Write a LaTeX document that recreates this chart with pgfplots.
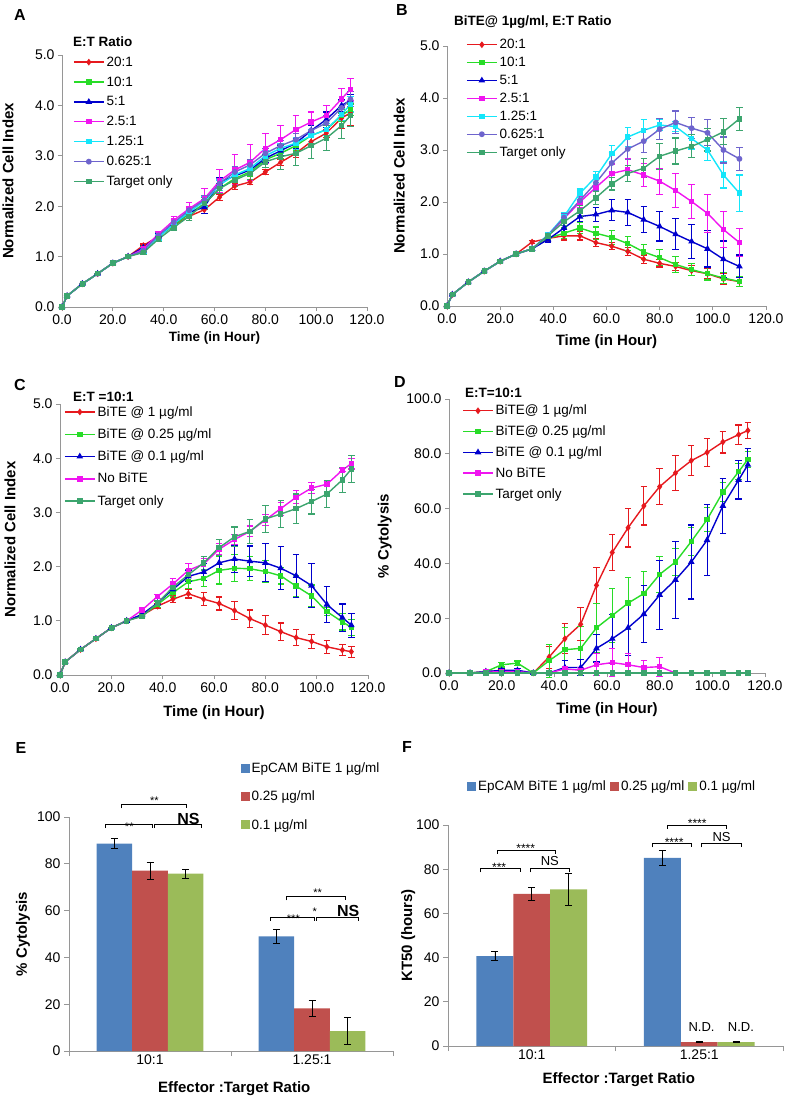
\documentclass[border=0pt]{standalone}
\usepackage{fontspec}
\setmainfont{Liberation Sans}
\usepackage{pgfplots}
\pgfplotsset{compat=1.18}
\definecolor{cRed}{RGB}{230,25,30}
\definecolor{cGreen}{RGB}{40,220,40}
\definecolor{cBlue}{RGB}{0,0,205}
\definecolor{cMag}{RGB}{240,20,240}
\definecolor{cCyan}{RGB}{20,230,250}
\definecolor{cPur}{RGB}{110,100,205}
\definecolor{cTeal}{RGB}{60,165,110}
\definecolor{axgray}{RGB}{150,150,150}
\definecolor{bBlue}{RGB}{79,129,189}
\definecolor{bRed}{RGB}{192,80,77}
\definecolor{bGreen}{RGB}{155,187,89}
\newcommand\tickf{\fontsize{14}{16}\selectfont}
\newcommand\legf{\fontsize{13.5}{16}\selectfont}
\newcommand\labf{\fontsize{15}{17}\selectfont\bfseries}
\newcommand\titf{\fontsize{13.5}{16}\selectfont\bfseries}
\newcommand\panf{\fontsize{16}{18}\selectfont\bfseries}
\pgfplotsset{
  base/.style={scale only axis, axis lines=left, axis line style={-, draw=axgray, line width=0.9pt},
    tick align=outside, major tick length=4pt, tick style={draw=axgray, line width=0.9pt},
    tick label style={font=\tickf}, /pgf/number format/assume math mode=true,
    label style={font=\labf}, clip=false, legend cell align=left,
    legend style={draw=none, fill=none, font=\legf, anchor=north west}},
  ln/.style={base, xmin=0, xmax=120, ymin=0, xtick={0,20,...,120},
    xticklabel style={/pgf/number format/.cd, fixed, fixed zerofill, precision=1},
    yticklabel style={/pgf/number format/.cd, fixed, fixed zerofill, precision=1},
    xlabel={Time (in Hour)},
    legend image code/.code={\draw[mark repeat=2, mark phase=2, ##1] plot coordinates {(0pt,0pt) (15pt,0pt) (30pt,0pt)};}},
  ser/.style={line width=1.4pt, mark size=2.3pt, mark options={solid},
    error bars/y dir=both, error bars/y explicit,
    error bars/error bar style={line width=1.1pt},
    error bars/error mark options={rotate=90, mark size=3.2pt, line width=1.1pt}},
  bars/.style={base, ymin=0, ymax=100, ytick={0,20,...,100}, xmin=-0.5, xmax=1.5,
    xtick={-0.5,0.5,1.5}, xticklabels={,,}, major tick length=5pt,
    extra x ticks={0,1}, extra x tick labels={10:1,1.25:1},
    extra x tick style={major tick length=0pt},
    ybar, bar width=0.22, xlabel={Effector :Target Ratio},
    legend image code/.code={\fill[##1] (0pt,-4.5pt) rectangle (9pt,4.5pt);}},
  eb/.style={error bars/y dir=both, error bars/y explicit,
    error bars/error bar style={black, line width=0.8pt},
    error bars/error mark options={rotate=90, black, mark size=3.5pt, line width=0.8pt}},
}
\begin{document}
\begin{tikzpicture}
\useasboundingbox (0pt,0pt) rectangle (786pt,-1100pt);

% ---------- A
\begin{axis}[ln, at={(62pt,-307pt)}, anchor=south west, width=305pt, height=252pt,
  ymax=5, ytick={0,1,...,5}, ylabel={Normalized Cell Index},
  ylabel style={at={(axis description cs:-0.177,0.5)}, anchor=center},
  xlabel style={at={(axis description cs:0.5,-0.123)}, anchor=center, font=\fontsize{13.5}{16}\selectfont\bfseries},
  legend style={at={(axis description cs:0.026,1.01)}, row sep=5pt}]
\addplot[ser, cRed, mark=diamond*, mark size=2.3pt] coordinates {(0,0)+-(0,0.01) (2,0.22)+-(0,0.01) (8,0.46)+-(0,0.01) (14,0.66)+-(0,0.01) (20,0.87)+-(0,0.01) (26,1.0)+-(0,0.01)
 (32,1.22)+-(0,0.03) (38,1.40)+-(0,0.04) (44,1.62)+-(0,0.05) (50,1.80)+-(0,0.05) (56,1.93)+-(0,0.08) (62,2.18)+-(0,0.06) (68,2.40)+-(0,0.06) (74,2.48)+-(0,0.05)
 (80,2.68)+-(0,0.05) (86,2.87)+-(0,0.06) (92,3.05)+-(0,0.08) (98,3.28)+-(0,0.08) (104,3.45)+-(0,0.08) (110,3.75)+-(0,0.2) (113.5,3.85)+-(0,0.25)};
\addlegendentry{20:1}
\addplot[ser, cGreen, mark=square*, mark size=2pt] coordinates {(0,0)+-(0,0.01) (2,0.22)+-(0,0.01) (8,0.46)+-(0,0.01) (14,0.66)+-(0,0.01) (20,0.87)+-(0,0.01) (26,1.0)+-(0,0.01)
 (32,1.15)+-(0,0.04) (38,1.40)+-(0,0.04) (44,1.62)+-(0,0.05) (50,1.85)+-(0,0.06) (56,2.05)+-(0,0.08) (62,2.35)+-(0,0.08) (68,2.55)+-(0,0.08) (74,2.68)+-(0,0.08)
 (80,2.92)+-(0,0.08) (86,3.05)+-(0,0.1) (92,3.20)+-(0,0.1) (98,3.40)+-(0,0.12) (104,3.52)+-(0,0.12) (110,3.80)+-(0,0.12) (113.5,3.92)+-(0,0.12)};
\addlegendentry{10:1}
\addplot[ser, cBlue, mark=triangle*, mark size=2.5pt] coordinates {(0,0)+-(0,0.01) (2,0.22)+-(0,0.01) (8,0.46)+-(0,0.01) (14,0.66)+-(0,0.01) (20,0.87)+-(0,0.01) (26,1.0)+-(0,0.01)
 (32,1.18)+-(0,0.04) (38,1.42)+-(0,0.04) (44,1.65)+-(0,0.05) (50,1.88)+-(0,0.06) (56,1.98)+-(0,0.12) (62,2.48)+-(0,0.08) (68,2.60)+-(0,0.08) (74,2.72)+-(0,0.08)
 (80,2.95)+-(0,0.08) (86,3.10)+-(0,0.1) (92,3.25)+-(0,0.1) (98,3.50)+-(0,0.1) (104,3.72)+-(0,0.15) (110,4.00)+-(0,0.12) (113.5,4.10)+-(0,0.12)};
\addlegendentry{5:1}
\addplot[ser, cMag, mark=square*, mark size=2pt] coordinates {(0,0)+-(0,0.01) (2,0.22)+-(0,0.01) (8,0.46)+-(0,0.01) (14,0.66)+-(0,0.01) (20,0.87)+-(0,0.01) (26,1.0)+-(0,0.01)
 (32,1.15)+-(0,0.03) (38,1.45)+-(0,0.04) (44,1.72)+-(0,0.08) (50,1.95)+-(0,0.12) (56,2.15)+-(0,0.2) (62,2.50)+-(0,0.22) (68,2.72)+-(0,0.3) (74,2.87)+-(0,0.35)
 (80,3.15)+-(0,0.3) (86,3.32)+-(0,0.28) (92,3.52)+-(0,0.28) (98,3.67)+-(0,0.2) (104,3.80)+-(0,0.2) (110,4.13)+-(0,0.2) (113.5,4.32)+-(0,0.22)};
\addlegendentry{2.5:1}
\addplot[ser, cCyan, mark=square*, mark size=2pt] coordinates {(0,0)+-(0,0.01) (2,0.22)+-(0,0.01) (8,0.46)+-(0,0.01) (14,0.66)+-(0,0.01) (20,0.87)+-(0,0.01) (26,1.0)+-(0,0.01)
 (32,1.10)+-(0,0.04) (38,1.38)+-(0,0.05) (44,1.65)+-(0,0.06) (50,1.88)+-(0,0.08) (56,2.10)+-(0,0.1) (62,2.42)+-(0,0.1) (68,2.62)+-(0,0.1) (74,2.75)+-(0,0.1)
 (80,3.00)+-(0,0.1) (86,3.15)+-(0,0.1) (92,3.25)+-(0,0.12) (98,3.40)+-(0,0.12) (104,3.52)+-(0,0.12) (110,3.82)+-(0,0.12) (113.5,4.02)+-(0,0.15)};
\addlegendentry{1.25:1}
\addplot[ser, cPur, mark=*, mark size=2.2pt] coordinates {(0,0)+-(0,0.01) (2,0.22)+-(0,0.01) (8,0.46)+-(0,0.01) (14,0.66)+-(0,0.01) (20,0.87)+-(0,0.01) (26,1.0)+-(0,0.01)
 (32,1.12)+-(0,0.04) (38,1.42)+-(0,0.05) (44,1.68)+-(0,0.06) (50,1.92)+-(0,0.08) (56,2.12)+-(0,0.1) (62,2.45)+-(0,0.1) (68,2.68)+-(0,0.1) (74,2.82)+-(0,0.1)
 (80,3.05)+-(0,0.1) (86,3.20)+-(0,0.1) (92,3.32)+-(0,0.12) (98,3.50)+-(0,0.12) (104,3.65)+-(0,0.15) (110,3.95)+-(0,0.15) (113.5,4.12)+-(0,0.15)};
\addlegendentry{0.625:1}
\addplot[ser, cTeal, mark=square*, mark size=2pt] coordinates {(0,0)+-(0,0.01) (2,0.22)+-(0,0.01) (8,0.46)+-(0,0.01) (14,0.66)+-(0,0.01) (20,0.87)+-(0,0.01) (26,1.0)+-(0,0.01)
 (32,1.08)+-(0,0.03) (38,1.35)+-(0,0.05) (44,1.58)+-(0,0.06) (50,1.80)+-(0,0.08) (56,2.05)+-(0,0.12) (62,2.35)+-(0,0.1) (68,2.52)+-(0,0.12) (74,2.65)+-(0,0.12)
 (80,2.88)+-(0,0.12) (86,2.98)+-(0,0.25) (92,3.05)+-(0,0.25) (98,3.20)+-(0,0.25) (104,3.35)+-(0,0.25) (110,3.60)+-(0,0.25) (113.5,3.80)+-(0,0.22)};
\addlegendentry{Target only}
\end{axis}

% ---------- B
\begin{axis}[ln, at={(447pt,-306pt)}, anchor=south west, width=319pt, height=260pt,
  ymax=5, ytick={0,1,...,5}, ylabel={Normalized Cell Index},
  ylabel style={at={(axis description cs:-0.150,0.5)}, anchor=center},
  xlabel style={at={(axis description cs:0.5,-0.138)}, anchor=center},
  legend style={at={(axis description cs:0.05,1.042)}, row sep=3pt}]
\addplot[ser, cRed, mark=diamond*, mark size=2.3pt] coordinates {(0,0)+-(0,0.01) (2,0.22)+-(0,0.01) (8,0.46)+-(0,0.01) (14,0.67)+-(0,0.01) (20,0.86)+-(0,0.01) (26,1.0)+-(0,0.01)
 (32,1.23)+-(0,0.03) (38,1.30)+-(0,0.05) (44,1.35)+-(0,0.08) (50,1.35)+-(0,0.08) (56,1.22)+-(0,0.07) (62,1.15)+-(0,0.07) (68,1.05)+-(0,0.08) (74,0.90)+-(0,0.08)
 (80,0.82)+-(0,0.07) (86,0.76)+-(0,0.08) (92,0.68)+-(0,0.1) (98,0.62)+-(0,0.1) (104,0.52)+-(0,0.1) (110,0.47)+-(0,0.1)};
\addlegendentry{20:1}
\addplot[ser, cGreen, mark=square*, mark size=2pt] coordinates {(0,0)+-(0,0.01) (2,0.22)+-(0,0.01) (8,0.46)+-(0,0.01) (14,0.67)+-(0,0.01) (20,0.86)+-(0,0.01) (26,1.0)+-(0,0.01)
 (32,1.10)+-(0,0.03) (38,1.30)+-(0,0.05) (44,1.40)+-(0,0.1) (50,1.50)+-(0,0.1) (56,1.40)+-(0,0.12) (62,1.32)+-(0,0.13) (68,1.20)+-(0,0.13) (74,1.04)+-(0,0.15)
 (80,0.93)+-(0,0.15) (86,0.80)+-(0,0.15) (92,0.70)+-(0,0.12) (98,0.62)+-(0,0.12) (104,0.54)+-(0,0.1) (110,0.47)+-(0,0.1)};
\addlegendentry{10:1}
\addplot[ser, cBlue, mark=triangle*, mark size=2.5pt] coordinates {(0,0)+-(0,0.01) (2,0.22)+-(0,0.01) (8,0.46)+-(0,0.01) (14,0.67)+-(0,0.01) (20,0.86)+-(0,0.01) (26,1.0)+-(0,0.01)
 (32,1.10)+-(0,0.03) (38,1.28)+-(0,0.05) (44,1.50)+-(0,0.1) (50,1.72)+-(0,0.1) (56,1.76)+-(0,0.13) (62,1.84)+-(0,0.2) (68,1.80)+-(0,0.25) (74,1.66)+-(0,0.25)
 (80,1.53)+-(0,0.28) (86,1.38)+-(0,0.3) (92,1.24)+-(0,0.32) (98,1.10)+-(0,0.35) (104,0.90)+-(0,0.35) (110,0.76)+-(0,0.22)};
\addlegendentry{5:1}
\addplot[ser, cMag, mark=square*, mark size=2pt] coordinates {(0,0)+-(0,0.01) (2,0.22)+-(0,0.01) (8,0.46)+-(0,0.01) (14,0.67)+-(0,0.01) (20,0.86)+-(0,0.01) (26,1.0)+-(0,0.01)
 (32,1.10)+-(0,0.03) (38,1.35)+-(0,0.05) (44,1.68)+-(0,0.08) (50,2.00)+-(0,0.1) (56,2.28)+-(0,0.15) (62,2.55)+-(0,0.18) (68,2.62)+-(0,0.22) (74,2.52)+-(0,0.22)
 (80,2.40)+-(0,0.25) (86,2.22)+-(0,0.32) (92,2.01)+-(0,0.33) (98,1.78)+-(0,0.37) (104,1.47)+-(0,0.35) (110,1.22)+-(0,0.27)};
\addlegendentry{2.5:1}
\addplot[ser, cCyan, mark=square*, mark size=2pt] coordinates {(0,0)+-(0,0.01) (2,0.22)+-(0,0.01) (8,0.46)+-(0,0.01) (14,0.67)+-(0,0.01) (20,0.86)+-(0,0.01) (26,1.0)+-(0,0.01)
 (32,1.10)+-(0,0.03) (38,1.37)+-(0,0.05) (44,1.72)+-(0,0.08) (50,2.17)+-(0,0.08) (56,2.48)+-(0,0.1) (62,2.93)+-(0,0.15) (68,3.25)+-(0,0.18) (74,3.38)+-(0,0.2)
 (80,3.48)+-(0,0.1) (86,3.45)+-(0,0.1) (92,3.22)+-(0,0.2) (98,3.00)+-(0,0.2) (104,2.52)+-(0,0.25) (110,2.17)+-(0,0.35)};
\addlegendentry{1.25:1}
\addplot[ser, cPur, mark=*, mark size=2.2pt] coordinates {(0,0)+-(0,0.01) (2,0.22)+-(0,0.01) (8,0.46)+-(0,0.01) (14,0.67)+-(0,0.01) (20,0.86)+-(0,0.01) (26,1.0)+-(0,0.01)
 (32,1.10)+-(0,0.03) (38,1.36)+-(0,0.05) (44,1.70)+-(0,0.08) (50,2.03)+-(0,0.1) (56,2.37)+-(0,0.15) (62,2.75)+-(0,0.2) (68,3.02)+-(0,0.2) (74,3.17)+-(0,0.22)
 (80,3.40)+-(0,0.2) (86,3.53)+-(0,0.22) (92,3.42)+-(0,0.2) (98,3.33)+-(0,0.25) (104,3.00)+-(0,0.25) (110,2.83)+-(0,0.22)};
\addlegendentry{0.625:1}
\addplot[ser, cTeal, mark=square*, mark size=2pt] coordinates {(0,0)+-(0,0.01) (2,0.22)+-(0,0.01) (8,0.46)+-(0,0.01) (14,0.67)+-(0,0.01) (20,0.86)+-(0,0.01) (26,1.0)+-(0,0.01)
 (32,1.10)+-(0,0.03) (38,1.35)+-(0,0.05) (44,1.62)+-(0,0.08) (50,1.83)+-(0,0.1) (56,2.08)+-(0,0.12) (62,2.35)+-(0,0.12) (68,2.55)+-(0,0.15) (74,2.65)+-(0,0.18)
 (80,2.88)+-(0,0.25) (86,2.98)+-(0,0.25) (92,3.07)+-(0,0.22) (98,3.20)+-(0,0.22) (104,3.35)+-(0,0.25) (110,3.60)+-(0,0.22)};
\addlegendentry{Target only}
\end{axis}

% ---------- C
\begin{axis}[ln, at={(60pt,-675pt)}, anchor=south west, width=308pt, height=271pt,
  ymax=5, ytick={0,1,...,5}, ylabel={Normalized Cell Index},
  ylabel style={at={(axis description cs:-0.162,0.5)}, anchor=center},
  xlabel style={at={(axis description cs:0.5,-0.137)}, anchor=center},
  legend style={at={(axis description cs:0.003,1.007)}, row sep=7pt}]
\addplot[ser, cRed, mark=diamond*, mark size=2.3pt] coordinates {(0,0)+-(0,0.01) (2,0.24)+-(0,0.01) (8,0.47)+-(0,0.01) (14,0.67)+-(0,0.01) (20,0.87)+-(0,0.01) (26,1.0)+-(0,0.01)
 (32,1.10)+-(0,0.03) (38,1.27)+-(0,0.05) (44,1.40)+-(0,0.07) (50,1.50)+-(0,0.08) (56,1.40)+-(0,0.12) (62,1.32)+-(0,0.12) (68,1.19)+-(0,0.16) (74,1.04)+-(0,0.16)
 (80,0.92)+-(0,0.17) (86,0.80)+-(0,0.16) (92,0.69)+-(0,0.15) (98,0.62)+-(0,0.13) (104,0.52)+-(0,0.12) (110,0.46)+-(0,0.1) (113.5,0.43)+-(0,0.1)};
\addlegendentry{BiTE @ 1 µg/ml}
\addplot[ser, cGreen, mark=square*, mark size=2pt] coordinates {(0,0)+-(0,0.01) (2,0.24)+-(0,0.01) (8,0.47)+-(0,0.01) (14,0.67)+-(0,0.01) (20,0.87)+-(0,0.01) (26,1.0)+-(0,0.01)
 (32,1.10)+-(0,0.03) (38,1.30)+-(0,0.05) (44,1.52)+-(0,0.08) (50,1.72)+-(0,0.12) (56,1.78)+-(0,0.15) (62,1.93)+-(0,0.25) (68,1.97)+-(0,0.25) (74,1.96)+-(0,0.22)
 (80,1.91)+-(0,0.2) (86,1.83)+-(0,0.15) (92,1.64)+-(0,0.2) (98,1.46)+-(0,0.2) (104,1.17)+-(0,0.08) (110,0.98)+-(0,0.15) (113.5,0.88)+-(0,0.15)};
\addlegendentry{BiTE @ 0.25 µg/ml}
\addplot[ser, cBlue, mark=triangle*, mark size=2.5pt] coordinates {(0,0)+-(0,0.01) (2,0.24)+-(0,0.01) (8,0.47)+-(0,0.01) (14,0.67)+-(0,0.01) (20,0.87)+-(0,0.01) (26,1.0)+-(0,0.01)
 (32,1.12)+-(0,0.03) (38,1.33)+-(0,0.05) (44,1.58)+-(0,0.08) (50,1.82)+-(0,0.1) (56,1.90)+-(0,0.15) (62,2.07)+-(0,0.15) (68,2.14)+-(0,0.25) (74,2.10)+-(0,0.28)
 (80,2.07)+-(0,0.35) (86,1.97)+-(0,0.4) (92,1.83)+-(0,0.4) (98,1.65)+-(0,0.4) (104,1.30)+-(0,0.33) (110,1.06)+-(0,0.25) (113.5,0.92)+-(0,0.22)};
\addlegendentry{BiTE @ 0.1 µg/ml}
\addplot[ser, cMag, mark=square*, mark size=2pt] coordinates {(0,0)+-(0,0.01) (2,0.24)+-(0,0.01) (8,0.47)+-(0,0.01) (14,0.67)+-(0,0.01) (20,0.87)+-(0,0.01) (26,1.0)+-(0,0.01)
 (32,1.20)+-(0,0.03) (38,1.45)+-(0,0.04) (44,1.68)+-(0,0.1) (50,1.93)+-(0,0.12) (56,2.05)+-(0,0.1) (62,2.32)+-(0,0.1) (68,2.50)+-(0,0.1) (74,2.65)+-(0,0.1)
 (80,2.86)+-(0,0.1) (86,3.07)+-(0,0.12) (92,3.28)+-(0,0.12) (98,3.45)+-(0,0.1) (104,3.52)+-(0,0.05) (110,3.78)+-(0,0.03) (113.5,3.90)+-(0,0.1)};
\addlegendentry{No BiTE}
\addplot[ser, cTeal, mark=square*, mark size=2pt] coordinates {(0,0)+-(0,0.01) (2,0.24)+-(0,0.01) (8,0.47)+-(0,0.01) (14,0.67)+-(0,0.01) (20,0.87)+-(0,0.01) (26,1.0)+-(0,0.01)
 (32,1.08)+-(0,0.03) (38,1.33)+-(0,0.05) (44,1.62)+-(0,0.08) (50,1.85)+-(0,0.1) (56,2.07)+-(0,0.12) (62,2.35)+-(0,0.15) (68,2.55)+-(0,0.18) (74,2.65)+-(0,0.22)
 (80,2.88)+-(0,0.25) (86,2.97)+-(0,0.25) (92,3.07)+-(0,0.27) (98,3.20)+-(0,0.23) (104,3.34)+-(0,0.25) (110,3.60)+-(0,0.23) (113.5,3.80)+-(0,0.25)};
\addlegendentry{Target only}
\end{axis}

% ---------- D
\begin{axis}[ln, at={(449pt,-673pt)}, anchor=south west, width=316pt, height=274pt,
  ymax=100, ytick={0,20,...,100}, ylabel={\% Cytolysis},
  ylabel style={at={(axis description cs:-0.203,0.5)}, anchor=center},
  xlabel style={at={(axis description cs:0.5,-0.135)}, anchor=center},
  legend style={at={(axis description cs:0.032,0.993)}, row sep=5.5pt}]
\addplot[ser, cRed, mark=diamond*, mark size=2.3pt] coordinates {(0,0)+-(0,0) (8,0)+-(0,0) (14,0.5)+-(0,0.3) (20,0.8)+-(0,0.5) (26,0.5)+-(0,0.3) (32,0)+-(0,0)
 (38,5.8)+-(0,4) (44,12.5)+-(0,5.5) (50,17.8)+-(0,6) (56,32)+-(0,6.5) (62,44)+-(0,6.5) (68,53)+-(0,7) (74,61)+-(0,7) (80,68)+-(0,6.5)
 (86,73)+-(0,6.5) (92,77.5)+-(0,5.5) (98,80.5)+-(0,5) (104,84.3)+-(0,4) (110,87)+-(0,3.5) (113.5,88.5)+-(0,3)};
\addlegendentry{BiTE@ 1 µg/ml}
\addplot[ser, cGreen, mark=square*, mark size=2pt] coordinates {(0,0)+-(0,0) (8,0)+-(0,0) (14,0.5)+-(0,0.3) (20,3.0)+-(0,0.8) (26,3.6)+-(0,0.8) (32,0)+-(0,0)
 (38,4.5)+-(0,6) (44,8.5)+-(0,8) (50,9)+-(0,8) (56,16.5)+-(0,9) (62,21)+-(0,10) (68,25.5)+-(0,9.5) (74,29)+-(0,8) (80,36)+-(0,6.5)
 (86,40.5)+-(0,5) (92,48)+-(0,5) (98,56)+-(0,4.5) (104,66)+-(0,3.5) (110,73.5)+-(0,3) (113.5,78)+-(0,3)};
\addlegendentry{BiTE@ 0.25 µg/ml}
\addplot[ser, cBlue, mark=triangle*, mark size=2.5pt] coordinates {(0,0)+-(0,0) (8,0)+-(0,0) (14,0.5)+-(0,0.3) (20,1)+-(0,0.8) (26,1)+-(0,0.8) (32,0)+-(0,0)
 (38,0)+-(0,0.3) (44,2)+-(0,2.5) (50,2)+-(0,3) (56,9)+-(0,5) (62,12.5)+-(0,9) (68,16.5)+-(0,10) (74,21.5)+-(0,10.5) (80,28.5)+-(0,12.5)
 (86,34)+-(0,14) (92,40.5)+-(0,13.5) (98,48.5)+-(0,13) (104,61)+-(0,10) (110,70.5)+-(0,7) (113.5,76)+-(0,6)};
\addlegendentry{BiTE @ 0.1 µg/ml}
\addplot[ser, cMag, mark=square*, mark size=2pt] coordinates {(0,0)+-(0,0) (8,0)+-(0,0) (14,0.3)+-(0,0) (20,0.5)+-(0,0) (26,0.5)+-(0,0) (32,0)+-(0,0)
 (38,0)+-(0,0) (44,1.5)+-(0,1) (50,1)+-(0,1) (56,3)+-(0,4) (62,3.8)+-(0,5) (68,3)+-(0,4) (74,2)+-(0,2.5) (80,2.3)+-(0,3.5)
 (86,0)+-(0,0) (92,0)+-(0,0) (98,0)+-(0,0) (104,0)+-(0,0) (110,0)+-(0,0) (113.5,0)+-(0,0)};
\addlegendentry{No BiTE}
\addplot[ser, cTeal, mark=square*, mark size=2pt] coordinates {(0,0)+-(0,0) (8,0)+-(0,0) (14,0)+-(0,0) (20,0)+-(0,0) (26,0)+-(0,0) (32,0)+-(0,0)
 (38,0)+-(0,0) (44,0)+-(0,0) (50,0)+-(0,0) (56,0)+-(0,0) (62,0)+-(0,0) (68,0)+-(0,0) (74,0)+-(0,0) (80,0)+-(0,0)
 (86,0)+-(0,0) (92,0)+-(0,0) (98,0)+-(0,0) (104,0)+-(0,0) (110,0)+-(0,0) (113.5,0)+-(0,0)};
\addlegendentry{Target only}
\end{axis}

% ---------- E
\begin{axis}[bars, at={(69pt,-1051pt)}, anchor=south west, width=324pt, height=234pt,
  ylabel={\% Cytolysis},
  ylabel style={at={(axis description cs:-0.142,0.5)}, anchor=center},
  xlabel style={at={(axis description cs:0.51,-0.162)}, anchor=center},
  legend style={at={(axis description cs:0.52,1.25)}, row sep=13pt}]
\addplot[fill=bBlue, draw=none, bar shift=-0.22, eb] coordinates {(0,88.6)+-(0,2.1) (1,49.0)+-(0,2.8)};
\addlegendentry{EpCAM BiTE 1 µg/ml}
\addplot[fill=bRed, draw=none, bar shift=0, eb] coordinates {(0,77.1)+-(0,3.7) (1,18.2)+-(0,3.6)};
\addlegendentry{0.25 µg/ml}
\addplot[fill=bGreen, draw=none, bar shift=0.22, eb] coordinates {(0,75.8)+-(0,1.9) (1,8.5)+-(0,5.8)};
\addlegendentry{0.1 µg/ml}
\draw[line width=0.8pt] (axis cs:-0.278,95.2) |- (axis cs:0.014,96.9) -- (axis cs:0.014,95.2);
\draw[line width=0.8pt] (axis cs:0.027,95.2) |- (axis cs:0.317,96.9) -- (axis cs:0.317,95.2);
\draw[line width=0.8pt] (axis cs:-0.175,103.7) |- (axis cs:0.226,105.4) -- (axis cs:0.226,103.7);
\draw[line width=0.8pt] (axis cs:0.745,55.6) |- (axis cs:1.012,57.3) -- (axis cs:1.012,55.6);
\draw[line width=0.8pt] (axis cs:1.025,55.6) |- (axis cs:1.286,57.3) -- (axis cs:1.286,55.6);
\draw[line width=0.8pt] (axis cs:0.844,64.4) |- (axis cs:1.204,66.1) -- (axis cs:1.204,64.4);
\node[font=\fontsize{11}{12}\selectfont] at (axis cs:-0.128,96.0) {**};
\node[font=\fontsize{11}{12}\selectfont] at (axis cs:0.027,107.0) {**};
\node[font=\fontsize{16}{18}\selectfont\bfseries] at (axis cs:0.237,99.3) {NS};
\node[font=\fontsize{11}{12}\selectfont] at (axis cs:0.885,56.5) {***};
\node[font=\fontsize{11}{12}\selectfont] at (axis cs:1.017,59.6) {*};
\node[font=\fontsize{11}{12}\selectfont] at (axis cs:1.035,67.5) {**};
\node[font=\fontsize{16}{18}\selectfont\bfseries] at (axis cs:1.224,59.8) {NS};
\end{axis}

% ---------- F
\begin{axis}[bars, at={(448pt,-1046pt)}, anchor=south west, width=335pt, height=221pt,
  ylabel={KT50 (hours)},
  ylabel style={at={(axis description cs:-0.119,0.5)}, anchor=center},
  xlabel style={at={(axis description cs:0.51,-0.154)}, anchor=center},
  legend columns=3, legend style={at={(axis description cs:0.49,1.176)}, anchor=center,
    /tikz/every even column/.append style={column sep=2pt}}]
\addplot[fill=bBlue, draw=none, bar shift=-0.22, eb] coordinates {(0,40.7)+-(0,2.0) (1,85.1)+-(0,3.4)};
\addlegendentry{EpCAM BiTE 1 µg/ml}
\addplot[fill=bRed, draw=none, bar shift=0, eb] coordinates {(0,68.8)+-(0,3.0) (1,1.8)+-(0,0.1)};
\addlegendentry{0.25 µg/ml}
\addplot[fill=bGreen, draw=none, bar shift=0.22, eb] coordinates {(0,70.9)+-(0,7.3) (1,1.8)+-(0,0.1)};
\addlegendentry{0.1 µg/ml}
\draw[line width=0.8pt] (axis cs:-0.305,78.6) |- (axis cs:-0.070,80.4) -- (axis cs:-0.070,78.6);
\draw[line width=0.8pt] (axis cs:-0.006,78.6) |- (axis cs:0.223,80.4) -- (axis cs:0.223,78.6);
\draw[line width=0.8pt] (axis cs:-0.205,86.9) |- (axis cs:0.143,88.7) -- (axis cs:0.143,86.9);
\draw[line width=0.8pt] (axis cs:0.721,89.9) |- (axis cs:0.954,91.7) -- (axis cs:0.954,89.9);
\draw[line width=0.8pt] (axis cs:1.014,89.9) |- (axis cs:1.253,91.7) -- (axis cs:1.253,89.9);
\draw[line width=0.8pt] (axis cs:0.811,98.2) |- (axis cs:1.163,100) -- (axis cs:1.163,98.2);
\node[font=\fontsize{12}{13}\selectfont] at (axis cs:-0.195,81.0) {***};
\node[font=\fontsize{13}{15}\selectfont] at (axis cs:0.108,83.6) {NS};
\node[font=\fontsize{12}{13}\selectfont] at (axis cs:-0.036,89.3) {****};
\node[font=\fontsize{12}{13}\selectfont] at (axis cs:0.85,92.3) {****};
\node[font=\fontsize{13}{15}\selectfont] at (axis cs:1.133,94.7) {NS};
\node[font=\fontsize{12}{13}\selectfont] at (axis cs:0.988,100.6) {****};
\node[font=\fontsize{13}{15}\selectfont] at (axis cs:1.014,8.7) {N.D.};
\node[font=\fontsize{13}{15}\selectfont] at (axis cs:1.249,8.7) {N.D.};
\end{axis}

% ---------- panel letters and titles
\node[font=\panf] at (20pt,-15pt) {A};
\node[font=\panf] at (402pt,-10pt) {B};
\node[font=\panf] at (20pt,-385pt) {C};
\node[font=\panf] at (400pt,-382pt) {D};
\node[font=\panf] at (21pt,-748pt) {E};
\node[font=\panf] at (407pt,-747pt) {F};
\node[font=\titf, anchor=west, inner sep=0pt] at (73pt,-42pt) {E:T Ratio};
\node[font=\titf, anchor=west, inner sep=0pt] at (454pt,-22pt) {BiTE@ 1µg/ml, E:T Ratio};
\node[font=\titf, anchor=west, inner sep=0pt] at (73pt,-397pt) {E:T =10:1};
\node[font=\titf, anchor=west, inner sep=0pt] at (465pt,-393pt) {E:T=10:1};
\end{tikzpicture}
\end{document}
